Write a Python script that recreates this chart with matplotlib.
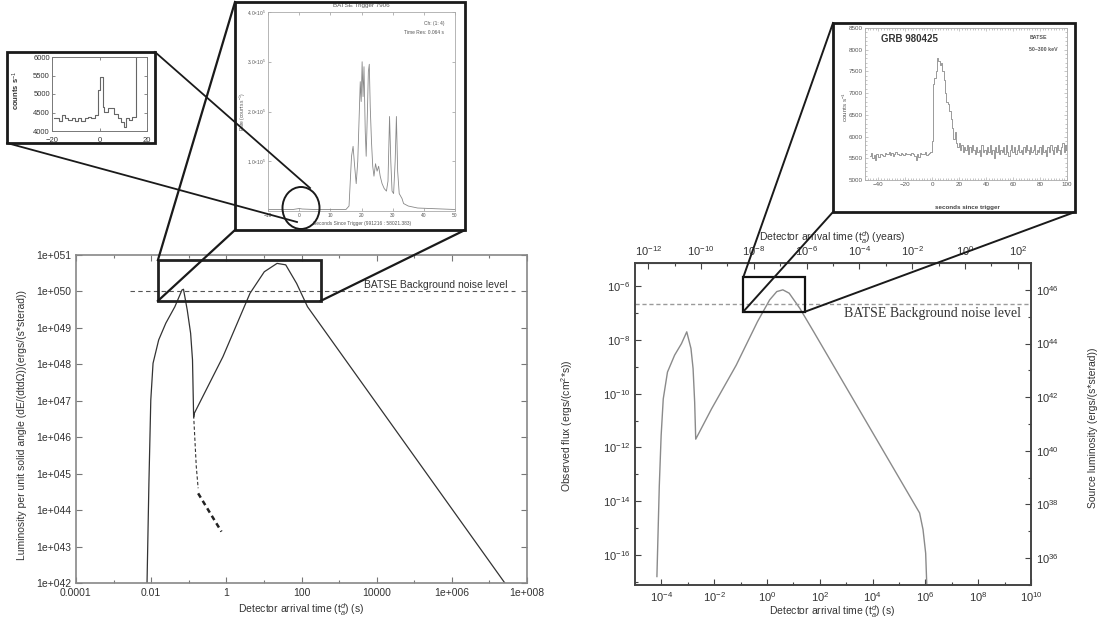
import numpy as np
import matplotlib.pyplot as plt
from matplotlib.patches import Rectangle, Ellipse
from matplotlib.ticker import NullLocator, NullFormatter

plt.rcParams['font.family'] = ['Liberation Sans', 'DejaVu Sans']
plt.rcParams['mathtext.fontset'] = 'custom'
plt.rcParams['mathtext.rm'] = 'Liberation Sans'
plt.rcParams['mathtext.it'] = 'Liberation Sans:italic'
plt.rcParams['mathtext.bf'] = 'Liberation Sans:bold'

W, H = 1112, 626

# ---- left panel: luminosity curve (log10 values)
lum_logt = [-2.11, -2.06, -2.01, -1.95, -1.80, -1.61, -1.37, -1.18, -1.14, -1.04, -0.95, -0.90, -0.87,
            -0.85, -0.09, 0.63, 1.01, 1.35, 1.58, 1.87, 2.16, 7.41]
lum_logL = [42.0, 44.74, 47.02, 48.03, 48.67, 49.13, 49.58, 50.04, 50.06, 49.49, 48.85, 48.12, 46.55,
            46.66, 48.21, 49.95, 50.54, 50.77, 50.73, 50.22, 49.58, 42.0]
dash1_logt = [-0.87, -0.80, -0.75]
dash1_logL = [46.6, 45.2, 44.6]
dash2_logt = [-0.75, -0.45, -0.13]
dash2_logL = [44.46, 43.95, 43.41]
noise_left = 1e50
noise_left_span = [2.7e-3, 4.9e7]
left_xticks = [1e-4, 1e-2, 1, 1e2, 1e4, 1e6, 1e8]
left_xlabels = ['0.0001', '0.01', '1', '100', '10000', '1e+006', '1e+008']
left_yexp = list(range(42, 52))
left_ylabels = ['1e+0%d' % k for k in left_yexp]
zoom_left = [0.0151, 324.0, 10**49.74, 10**50.86]

# ---- right panel: observed flux curve
flux_logt = [-4.17, -4.13, -4.08, -4.01, -3.93, -3.77, -3.50, -3.24, -3.04, -2.88, -2.80, -2.74, -2.70,
             -2.10, -1.17, -0.36, 0.10, 0.37, 0.60, 0.84, 1.24, 1.77, 5.78, 5.91, 6.01, 6.05]
flux_logF = [-16.81, -15.31, -13.44, -11.56, -10.19, -9.19, -8.56, -8.13, -7.69, -8.31, -9.06, -10.31, -11.69,
             -10.56, -8.94, -7.31, -6.50, -6.19, -6.125, -6.25, -6.81, -7.69, -14.44, -15.06, -15.94, -17.06]
noise_right = 10**-6.65
right_xexp = [-4, -2, 0, 2, 4, 6, 8, 10]
right_yexp = [-16, -14, -12, -10, -8, -6]
lum_yexp = [36, 38, 40, 42, 44, 46]
year_exp = [-12, -10, -8, -6, -4, -2, 0, 2]
zoom_right = [10**-0.90, 10**1.44, 10**-6.94, 10**-5.66]

# ---- inset: BATSE trigger 7906 light curve (units of 1e5 counts/s)
t7906 = [-10, -2, 0, 1, 5, 15, 16, 16.8, 17.3, 17.8, 18.3, 18.8, 19.3, 19.6, 19.9, 20.2, 20.5, 20.8,
         21.2, 21.5, 21.9, 22.2, 22.5, 22.8, 23.2, 23.6, 24.0, 24.5, 25.0, 25.5, 26.0, 26.6, 27.3, 28.0,
         28.5, 29.0, 29.4, 29.8, 30.3, 30.8, 31.2, 31.6, 32.1, 33.0, 33.5, 35, 38, 42, 50]
r7906 = [0.03, 0.03, 0.05, 0.04, 0.03, 0.03, 0.10, 1.1, 1.3, 0.9, 0.55, 1.0, 2.0, 2.6, 2.2, 3.0, 2.3, 2.9,
         1.6, 1.1, 2.0, 2.8, 2.95, 2.1, 1.4, 0.9, 0.7, 0.95, 0.8, 0.9, 0.7, 0.55, 0.45, 0.4,
         0.6, 1.9, 1.0, 0.4, 0.35, 1.0, 1.9, 0.8, 0.35, 0.25, 0.15, 0.10, 0.06, 0.05, 0.03]

# ---- inset: zoom of precursor (counts/s)
t_pre = [-19.3, -17.2, -15.9, -14.5, -13.1, -11.7, -10.3, -9.0, -7.6, -6.2, -4.8, -3.4, -2.1, -0.7,
         0.0, 1.4, 2.1, 3.4, 6.2, 7.6, 9.0, 10.3, 11.0, 12.4, 13.8, 15.2, 15.9]
c_pre = [4340, 4280, 4430, 4340, 4300, 4340, 4280, 4350, 4260, 4340, 4380, 4340, 4430, 5100,
         5460, 4650, 4520, 4610, 4470, 4340, 4250, 4120, 4340, 4300, 4380, 6200, 6200]

# ---- inset: GRB 980425 light curve (counts/s, 1 s bins from -46 s)
c980425 = [5560, 5620, 5500, 5580, 5470, 5600, 5540, 5520, 5610, 5580, 5560, 5630, 5590, 5600, 5650,
           5580, 5620, 5560, 5600, 5640, 5590, 5610, 5580, 5620, 5600, 5570, 5630, 5590, 5610, 5600,
           5580, 5620, 5590, 5560, 5470, 5600, 5520, 5630, 5590, 5610, 5600, 5640, 5580, 5600, 5620, 5650,
           5900, 7200, 7350, 7500, 7800, 7750, 7650, 7700, 7500, 7300, 7000, 6800, 6750, 6600, 6400,
           6200, 5950, 6100, 5850, 5750, 5850, 5700, 5800, 5650, 5750, 5700, 5800, 5600, 5750, 5650,
           5800, 5700, 5600, 5750, 5650, 5700, 5550, 5800, 5650, 5700, 5600, 5750, 5650, 5800, 5600,
           5700, 5500, 5750, 5650, 5800, 5600, 5700, 5650, 5750, 5600, 5800, 5650, 5550, 5700, 5800,
           5650, 5750, 5600, 5700, 5800, 5650, 5700, 5600, 5750, 5650, 5800, 5700, 5600, 5750, 5650,
           5700, 5800, 5600, 5700, 5650, 5750, 5600, 5800, 5650, 5700, 5550, 5750, 5650, 5800, 5700,
           5600, 5750, 5650, 5800, 5700, 5600, 5750, 5850, 5650, 5800, 5700]
t980425 = np.arange(len(c980425)) - 46

TXT = '#333333'


def rect(x0, y0, x1, y1):
    return [x0 / W, 1 - y1 / H, (x1 - x0) / W, (y1 - y0) / H]


def ftext(x, y, s, **kw):
    kw.setdefault('color', TXT)
    fig.text(x / W, 1 - y / H, s, **kw)


def to_px(ax, x, y):
    p = ax.transData.transform((x, y))
    return p[0], H - p[1]


fig = plt.figure(figsize=(W / 100, H / 100), dpi=100)
fig.patch.set_facecolor('white')

# ================= left main plot
ax1 = fig.add_axes(rect(76, 255, 527, 583))
ax1.set_xscale('log')
ax1.set_yscale('log')
ax1.plot(10**np.array(lum_logt), 10**np.array(lum_logL), color='#333333', lw=0.9)
ax1.plot(10**np.array(dash1_logt), 10**np.array(dash1_logL), color='#333333', lw=0.8, ls=(0, (3, 2)))
ax1.plot(10**np.array(dash2_logt), 10**np.array(dash2_logL), color='#222222', lw=1.8, ls=(0, (2, 1.5)))
ax1.plot(noise_left_span, [noise_left, noise_left], color='#555555', lw=0.8, ls=(0, (4, 3)))
ax1.text(10**5.57, 10**50.18, 'BATSE Background noise level', ha='center', va='center',
         fontsize=7.5, color=TXT)
ax1.add_patch(Rectangle((zoom_left[0], zoom_left[2]), zoom_left[1] - zoom_left[0],
                        zoom_left[3] - zoom_left[2], fill=False, lw=2, ec='#222222', zorder=5))
ax1.set_xlim(1e-4, 1e8)
ax1.set_ylim(1e42, 1e51)
ax1.set_xticks(left_xticks, left_xlabels)
ax1.set_xticks([1e-3, 1e-1, 1e1, 1e3, 1e5, 1e7], minor=True)
ax1.xaxis.set_minor_formatter(NullFormatter())
ax1.set_yticks([10.0**k for k in left_yexp], left_ylabels)
ax1.yaxis.set_minor_locator(NullLocator())
ax1.tick_params(which='both', direction='in', top=True, right=True, labelsize=7.5,
                labelcolor=TXT, color='#777777', width=0.8)
ax1.tick_params(which='major', length=4)
ax1.tick_params(which='minor', length=2.5)
for s in ax1.spines.values():
    s.set_color('#888888')
    s.set_linewidth(1.2)
ftext(22, 425, 'Luminosity per unit solid angle (dE/(dtd\u03a9))(ergs/(s*sterad))', rotation=90,
      ha='center', va='center', fontsize=7.5)
ftext(301, 610, r'Detector arrival time (t$_a^d$) (s)', ha='center', va='center', fontsize=7.5)

# ================= right main plot
ax2 = fig.add_axes(rect(635, 263, 1031, 585))
ax2.set_xscale('log')
ax2.set_yscale('log')
ax2.plot(10**np.array(flux_logt), 10**np.array(flux_logF), color='#8a8a8a', lw=1.0)
ax2.axhline(noise_right, color='#9a9a9a', lw=1.0, ls=(0, (3, 2)))
ax2.text(10**6.25, 10**-6.99, 'BATSE Background noise level', ha='center', va='center',
         fontsize=10, family='Liberation Serif', color='#333333')
ax2.add_patch(Rectangle((zoom_right[0], zoom_right[2]), zoom_right[1] - zoom_right[0],
                        zoom_right[3] - zoom_right[2], fill=False, lw=1.6, ec='#111111', zorder=5))
ax2.set_xlim(1e-5, 1e10)
ax2.set_ylim(10**-17.125, 10**-5.125)
ax2.set_xticks([10.0**k for k in right_xexp], [r'$10^{%d}$' % k for k in right_xexp])
ax2.set_xticks([10.0**(k + 1) for k in right_xexp[:-1]] + [1e-5], minor=True)
ax2.xaxis.set_minor_formatter(NullFormatter())
ax2.set_yticks([10.0**k for k in right_yexp], [r'$10^{%d}$' % k for k in right_yexp])
ax2.set_yticks([10.0**(k + 1) for k in right_yexp[:-1]] + [1e-17], minor=True)
ax2.yaxis.set_minor_formatter(NullFormatter())
ax2.tick_params(which='both', direction='in', top=False, right=False, labelsize=8,
                labelcolor=TXT, color='#444444', width=0.8)
ax2.tick_params(which='major', length=4)
ax2.tick_params(which='minor', length=2.5)
for s in ax2.spines.values():
    s.set_color('#444444')
    s.set_linewidth(1.2)

ax2r = ax2.twinx()
ax2r.set_yscale('log')
ax2r.set_ylim(1e35, 1e47)
ax2r.set_yticks([10.0**k for k in lum_yexp], [r'$10^{%d}$' % k for k in lum_yexp])
ax2r.set_yticks([10.0**(k + 1) for k in lum_yexp[:-1]] + [1e35], minor=True)
ax2r.yaxis.set_minor_formatter(NullFormatter())
ax2r.tick_params(which='both', direction='in', labelsize=8, labelcolor=TXT, color='#444444', width=0.8)
ax2r.tick_params(which='major', length=4)
ax2r.tick_params(which='minor', length=2.5)
for s in ax2r.spines.values():
    s.set_color('#444444')
    s.set_linewidth(1.2)

sec = ax2.secondary_xaxis('top', functions=(lambda s: s / 3.156e7, lambda y: y * 3.156e7))
sec.set_xticks([10.0**k for k in year_exp], [r'$10^{%d}$' % k for k in year_exp])
sec.set_xticks([10.0**(k + 1) for k in year_exp[:-1]], minor=True)
sec.xaxis.set_minor_formatter(NullFormatter())
sec.tick_params(which='both', direction='in', labelsize=8, labelcolor=TXT, color='#444444', width=0.8)
sec.tick_params(which='major', length=4)
sec.tick_params(which='minor', length=2.5)
sec.spines['top'].set_color('#444444')

ftext(567, 426, r'Observed flux (ergs/(cm$^2$*s))', rotation=90, ha='center', va='center', fontsize=7.5)
ftext(1093, 428, 'Source luminosity (ergs/(s*sterad))', rotation=90, ha='center', va='center', fontsize=7.5)
ftext(832, 612, r'Detector arrival time (t$_a^d$) (s)', ha='center', va='center', fontsize=7.5)
ftext(832, 238, r'Detector arrival time (t$_a^d$) (years)', ha='center', va='center', fontsize=7.5)

# ================= inset: precursor zoom
axp = fig.add_axes(rect(52, 57, 147, 131))
axp.plot(t_pre, c_pre, drawstyle='steps-post', color='#666666', lw=0.8)
axp.set_xlim(-20, 20)
axp.set_ylim(4000, 6000)
axp.set_xticks([-20, 0, 20])
axp.set_yticks([4000, 4500, 5000, 5500, 6000])
axp.tick_params(direction='in', labelsize=5.5, labelcolor=TXT, length=2.5, width=0.6, top=True, right=True,
                pad=1.5, color='#777777')
axp.tick_params(axis='x', pad=4)
for s in axp.spines.values():
    s.set_color('#777777')
    s.set_linewidth(0.7)
ftext(16, 90, r'counts s$^{-1}$', rotation=90, ha='center', va='center', fontsize=5.5, fontweight='bold')

# ================= inset: BATSE trigger 7906
axb = fig.add_axes(rect(268, 12, 455, 211))
axb.plot(t7906, r7906, color='#888888', lw=0.6)
axb.set_xlim(-10, 50)
axb.set_ylim(0, 4)
axb.set_xticks([-10, 0, 10, 20, 30, 40, 50])
axb.set_yticks([1, 2, 3, 4], [r'1.0$\times$10$^5$', r'2.0$\times$10$^5$', r'3.0$\times$10$^5$',
                              r'4.0$\times$10$^5$'])
axb.tick_params(direction='in', labelsize=3.5, labelcolor='#555555', length=2, width=0.5, top=True,
                right=True, pad=1.5, color='#999999')
for s in axb.spines.values():
    s.set_color('#aaaaaa')
    s.set_linewidth(0.6)
ftext(361, 6, 'BATSE Trigger 7906', ha='center', va='center', fontsize=4.5, color='#555555')
ftext(444, 24, 'Ch: (1: 4)', ha='right', va='center', fontsize=3.5, color='#555555')
ftext(444, 32, 'Time Res: 0.064 s', ha='right', va='center', fontsize=3.5, color='#555555')
ftext(362, 224, 'Seconds Since Trigger (991216 : 58021.383)', ha='center', va='center', fontsize=3.5,
      color='#555555')
ftext(243, 112, r'Rate (counts s$^{-1}$)', rotation=90, ha='center', va='center', fontsize=3.5,
      color='#555555')

# ================= inset: GRB 980425
axg = fig.add_axes(rect(865, 28, 1067, 180))
axg.plot(t980425, c980425, drawstyle='steps-mid', color='#8a8a8a', lw=0.6)
axg.set_xlim(-50, 100)
axg.set_ylim(5000, 8500)
axg.set_xticks([-40, -20, 0, 20, 40, 60, 80, 100])
axg.set_xticks(np.arange(-50, 101, 2), minor=True)
axg.set_yticks([5000, 5500, 6000, 6500, 7000, 7500, 8000, 8500])
axg.set_yticks(np.arange(5000, 8501, 100), minor=True)
axg.tick_params(which='both', direction='in', labelsize=4.5, labelcolor='#555555', width=0.4, top=True,
                right=True, pad=1.5, color='#999999')
axg.tick_params(which='major', length=2.5)
axg.tick_params(which='minor', length=1.2)
for s in axg.spines.values():
    s.set_color('#aaaaaa')
    s.set_linewidth(0.6)
axg.text(-38, 8250, 'GRB 980425', fontsize=7, fontweight='bold', color='#333333', va='center')
axg.text(72, 8270, 'BATSE', fontsize=3.8, fontweight='bold', color='#555555', va='center')
axg.text(72, 8010, '50\u2013300 keV', fontsize=3.8, fontweight='bold', color='#555555', va='center')
ftext(967, 207, 'seconds since trigger', ha='center', va='center', fontsize=4.5, fontweight='bold',
      color='#444444')
ftext(845, 107, r'counts s$^{-1}$', rotation=90, ha='center', va='center', fontsize=4.5, color='#555555')

# ================= overlay: frames and connector lines in pixel coordinates
ov = fig.add_axes([0, 0, 1, 1], zorder=20)
ov.set_xlim(0, W)
ov.set_ylim(H, 0)
ov.axis('off')
ov.patch.set_alpha(0)

frames = [(7, 52, 155, 143), (235, 2, 465, 230), (833, 23, 1075, 212)]
for x0, y0, x1, y1 in frames:
    ov.add_patch(Rectangle((x0, y0), x1 - x0, y1 - y0, fill=False, lw=2, ec='#1a1a1a'))

ov.add_patch(Ellipse((301, 208), 37, 42, fill=False, lw=1.4, ec='#1a1a1a'))
ov.plot([155, 310], [52, 188], color='#1a1a1a', lw=1.3)
ov.plot([7, 297], [143, 222], color='#1a1a1a', lw=1.3)

lx0, ly0 = to_px(ax1, zoom_left[0], zoom_left[3])
lx1, ly1 = to_px(ax1, zoom_left[1], zoom_left[2])
ov.plot([lx0, 235], [ly0, 2], color='#1a1a1a', lw=1.6)
ov.plot([lx0, 235], [ly1, 230], color='#1a1a1a', lw=1.6)
ov.plot([lx1, 465], [ly1, 230], color='#1a1a1a', lw=1.6)

rx0, ry0 = to_px(ax2, zoom_right[0], zoom_right[3])
rx1, ry1 = to_px(ax2, zoom_right[1], zoom_right[2])
ov.plot([rx0, 833], [ry0, 23], color='#1a1a1a', lw=1.4)
ov.plot([rx0, 833], [ry1, 212], color='#1a1a1a', lw=1.4)
ov.plot([rx1, 1075], [ry1, 212], color='#1a1a1a', lw=1.4)

fig.savefig('out.png', dpi=100)
